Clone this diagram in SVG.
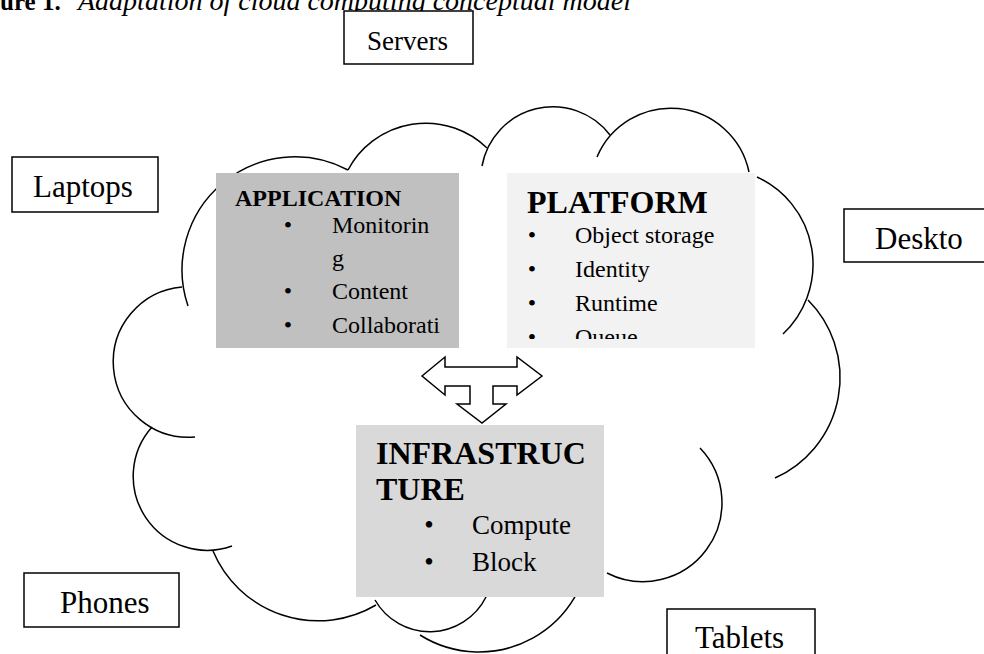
<svg xmlns="http://www.w3.org/2000/svg" width="984" height="654" viewBox="0 0 984 654">
<defs>
<style>
.t{font-family:"Liberation Serif","Times New Roman",serif;fill:#000}
.lbl{font-size:31px}
.b{font-weight:bold}
.box{fill:#fff;stroke:#000;stroke-width:1.5}
.cl{fill:none;stroke:#000;stroke-width:1.5}
.bul{text-anchor:middle}
</style>
<clipPath id="clipPlat"><rect x="507" y="173" width="248" height="166"/></clipPath>
</defs>
<rect width="984" height="654" fill="#fff"/>
<g id="title">
<text class="t b" x="0" y="10" font-size="25">ure 1.</text>
<text class="t" x="78" y="10" font-size="28" font-style="italic">Adaptation of cloud computing conceptual model</text>
</g>
<g id="cloud">
<path class="cl" d="M188,306 A113,113 0 0 1 348,170"/>
<path class="cl" d="M348,170 A88,88 0 0 1 487,148"/>
<path class="cl" d="M482,166 A72,72 0 0 1 610,135"/>
<path class="cl" d="M597,157 A80,80 0 0 1 749,172"/>
<path class="cl" d="M757,177 A96,96 0 0 1 783,334"/>
<path class="cl" d="M808,300 A110,110 0 0 1 775,478"/>
<path class="cl" d="M700,448 A79,79 0 0 1 607,573"/>
<path class="cl" d="M590,541 A111,111 0 0 1 420,635"/>
<path class="cl" d="M486,597 A63,63 0 0 1 375,600"/>
<path class="cl" d="M213,551 A114,114 0 0 0 376,605"/>
<path class="cl" d="M152,427 A74,74 0 0 0 232,546"/>
<path class="cl" d="M182,287 A75,75 0 0 0 195,437"/>
</g>
<g id="application">
<rect x="216" y="173" width="243" height="175" fill="#c0c0c0"/>
<text class="t b" x="235" y="206" font-size="24">APPLICATION</text>
<g class="t" font-size="24">
<text class="bul" x="288" y="233">•</text><text x="332" y="233">Monitorin</text>
<text x="332" y="266">g</text>
<text class="bul" x="288" y="299">•</text><text x="332" y="299">Content</text>
<text class="bul" x="288" y="333">•</text><text x="332" y="333">Collaborati</text>
</g>
</g>
<g id="platform">
<rect x="507" y="173" width="248" height="175" fill="#f2f2f2"/>
<text class="t b" x="527" y="213" font-size="32">PLATFORM</text>
<g class="t" font-size="24" clip-path="url(#clipPlat)">
<text class="bul" x="532" y="243">•</text><text x="575" y="243">Object storage</text>
<text class="bul" x="532" y="277">•</text><text x="575" y="277">Identity</text>
<text class="bul" x="532" y="311">•</text><text x="575" y="311">Runtime</text>
<text class="bul" x="532" y="345">•</text><text x="575" y="345">Queue</text>
</g>
</g>
<g id="infrastructure">
<rect x="356" y="425" width="248" height="172" fill="#d9d9d9"/>
<text class="t b" x="376" y="464" font-size="32">INFRASTRUC</text>
<text class="t b" x="376" y="500" font-size="32">TURE</text>
<g class="t" font-size="27">
<text class="bul" x="429" y="534">•</text><text x="472" y="534">Compute</text>
<text class="bul" x="429" y="571">•</text><text x="472" y="571">Block</text>
</g>
</g>
<g id="connectors">
<polygon points="422,376 445,357 445,367 517,367 517,357 542,376 517,395 517,386 493,386 493,404 506,404 482,423 457,404 470,404 470,386 445,386 445,395" fill="#fff" stroke="#000" stroke-width="1.5" stroke-linejoin="miter"/>
</g>
<g id="servers"><rect class="box" x="344" y="11" width="129" height="53"/><text class="t" font-size="27" x="367" y="50">Servers</text></g>
<g id="laptops"><rect class="box" x="12" y="157" width="146" height="55"/><text class="t lbl" x="33" y="197">Laptops</text></g>
<g id="desktops"><rect class="box" x="844" y="209" width="150" height="53"/><text class="t lbl" x="875" y="249">Deskto</text></g>
<g id="phones"><rect class="box" x="24" y="573" width="155" height="54"/><text class="t lbl" x="60" y="613">Phones</text></g>
<g id="tablets"><rect class="box" x="667" y="609" width="148" height="55"/><text class="t lbl" x="695" y="648">Tablets</text></g>
</svg>
